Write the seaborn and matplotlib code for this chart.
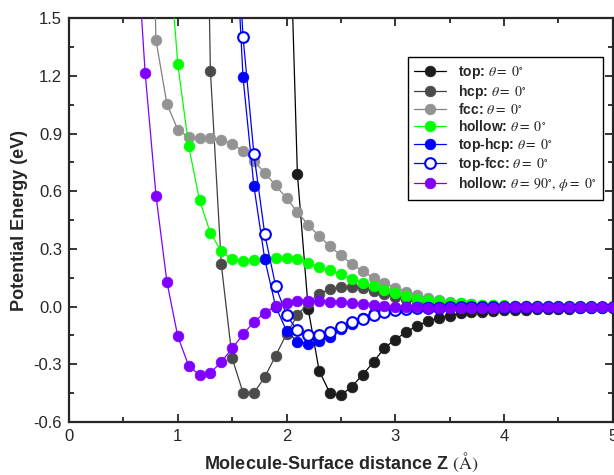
import matplotlib
matplotlib.use('Agg')
import pandas as pd
import matplotlib.pyplot as plt
import seaborn as sns
from matplotlib.ticker import MultipleLocator, FormatStrFormatter

# distance grid (Angstrom), 0.1 steps as in the calculation
z_grid = [0.6, 0.7, 0.8, 0.9, 1.0, 1.1, 1.2, 1.3, 1.4, 1.5, 1.6, 1.7, 1.8, 1.9, 2.0,
          2.1, 2.2, 2.3, 2.4, 2.5, 2.6, 2.7, 2.8, 2.9, 3.0, 3.1, 3.2, 3.3, 3.4, 3.5,
          3.6, 3.7, 3.8, 3.9, 4.0, 4.1, 4.2, 4.3, 4.4, 4.5, 4.6, 4.7, 4.8, 4.9, 5.0]

# potential energies (eV), each series starts at its own z
top_z0 = 2.0
top_e = [2.6, 0.69, -0.015, -0.334, -0.452, -0.462, -0.417, -0.355, -0.289, -0.215,
         -0.172, -0.133, -0.100, -0.077, -0.060, -0.047, -0.035, -0.031, -0.027, -0.023,
         -0.020, -0.018, -0.016, -0.014, -0.013, -0.012, -0.011, -0.010, -0.009, -0.008, -0.008]

hcp_z0 = 1.2
hcp_e = [4.5, 1.228, 0.221, -0.269, -0.448, -0.450, -0.367, -0.256, -0.143, -0.046,
         0.020, 0.067, 0.090, 0.100, 0.102, 0.095, 0.080, 0.063, 0.051, 0.041,
         0.031, 0.024, 0.018, 0.013, 0.009, 0.006, 0.004, 0.003, 0.002, 0.001,
         0.001, 0.001, 0.000, 0.000, 0.000, 0.000, 0.000, 0.000, 0.000]

fcc_z0 = 0.7
fcc_e = [3.5, 1.385, 1.056, 0.920, 0.882, 0.877, 0.876, 0.869, 0.846, 0.809,
         0.756, 0.697, 0.630, 0.564, 0.492, 0.425, 0.367, 0.313, 0.266, 0.222,
         0.183, 0.150, 0.121, 0.099, 0.078, 0.060, 0.044, 0.033, 0.024, 0.016,
         0.012, 0.009, 0.006, 0.004, 0.003, 0.002, 0.002, 0.001, 0.001, 0.001,
         0.000, 0.000, 0.000, 0.000]

hollow_z0 = 0.9
hollow_e = [2.0, 1.262, 0.837, 0.553, 0.383, 0.287, 0.246, 0.238, 0.241, 0.246,
            0.254, 0.250, 0.246, 0.228, 0.206, 0.188, 0.167, 0.145, 0.124, 0.107,
            0.086, 0.069, 0.055, 0.041, 0.034, 0.027, 0.020, 0.016, 0.013, 0.010,
            0.008, 0.006, 0.005, 0.004, 0.003, 0.002, 0.002, 0.001, 0.001, 0.001,
            0.000, 0.000]

tophcp_z0 = 1.5
tophcp_e = [2.3, 1.193, 0.627, 0.246, 0.000, -0.126, -0.184, -0.195, -0.182, -0.157,
            -0.119, -0.091, -0.062, -0.035, -0.018, -0.010, -0.005, -0.003, -0.002, -0.002,
            -0.001, -0.001, -0.001, -0.001, -0.001, 0.000, 0.000, 0.000, 0.000, 0.000,
            0.000, 0.000, 0.000, 0.000, 0.000, 0.000]

topfcc_z0 = 1.5
topfcc_e = [2.4, 1.405, 0.794, 0.377, 0.107, -0.045, -0.124, -0.148, -0.146, -0.130,
            -0.105, -0.081, -0.066, -0.043, -0.029, -0.018, -0.013, -0.010, -0.008, -0.006,
            -0.005, -0.004, -0.003, -0.003, -0.002, -0.002, -0.002, -0.001, -0.001, -0.001,
            -0.001, -0.001, 0.000, 0.000, 0.000, 0.000]

hollow90_z0 = 0.6
hollow90_e = [2.1, 1.217, 0.577, 0.129, -0.155, -0.308, -0.357, -0.345, -0.289, -0.218,
              -0.145, -0.081, -0.032, 0.003, 0.020, 0.030, 0.030, 0.029, 0.025, 0.022,
              0.017, 0.013, 0.008, 0.004, 0.000, -0.003, -0.005, -0.006, -0.007, -0.007,
              -0.007, -0.007, -0.006, -0.006, -0.005, -0.005, -0.004, -0.004, -0.003, -0.003,
              -0.002, -0.002, -0.002, -0.001, -0.001]

th0 = r"$\theta\mathrm{=\ 0}^{\circ}$"
series = [
    # label, z0, energies, line colour, face, edge
    ("top: " + th0, top_z0, top_e, "black", "#1c1c1c", "#1c1c1c"),
    ("hcp: " + th0, hcp_z0, hcp_e, "#404040", "#4a4a4a", "#4a4a4a"),
    ("fcc: " + th0, fcc_z0, fcc_e, "#808080", "#939393", "#939393"),
    ("hollow: " + th0, hollow_z0, hollow_e, "#00ff00", "#00ff00", "#00ff00"),
    ("top-hcp: " + th0, tophcp_z0, tophcp_e, "#0000ff", "#0000ff", "#0000ff"),
    ("top-fcc: " + th0, topfcc_z0, topfcc_e, "#0000ff", "white", "#0000ff"),
    (r"hollow: $\theta\mathrm{=\ 90}^{\circ}\mathrm{,}\ \phi\mathrm{=\ 0}^{\circ}$",
     hollow90_z0, hollow90_e, "#8000ff", "#8000ff", "#8000ff"),
]

sns.set_style("ticks")
plt.rcParams['font.family'] = ['Liberation Sans', 'DejaVu Sans']
plt.rcParams['mathtext.fontset'] = 'stix'
plt.rcParams['axes.unicode_minus'] = False

fig = plt.figure(figsize=(6.14, 4.75), dpi=100)
ax = fig.add_axes([0.1124, 0.112, 0.8856, 0.8494])

for k, (label, z0, energies, lc, fc, ec) in enumerate(series):
    i0 = z_grid.index(z0)
    df = pd.DataFrame({'z': z_grid[i0:i0 + len(energies)], 'E': energies})
    sns.lineplot(data=df, x='z', y='E', ax=ax, sort=False, estimator=None,
                 color=lc, lw=0.9, marker='o', markersize=7.7,
                 markerfacecolor=fc, markeredgecolor=ec,
                 markeredgewidth=1.5 if fc == "white" else 0.5,
                 label=label, zorder=2 + k)

ax.set_xlim(0, 5)
ax.set_ylim(-0.6, 1.5)
ax.xaxis.set_major_locator(MultipleLocator(1))
ax.xaxis.set_minor_locator(MultipleLocator(0.5))
ax.yaxis.set_major_locator(MultipleLocator(0.3))
ax.yaxis.set_minor_locator(MultipleLocator(0.15))
ax.yaxis.set_major_formatter(FormatStrFormatter('%.1f'))
ax.tick_params(which='both', direction='in', top=True, right=True, width=1.3,
               labelsize=12, pad=5)
ax.tick_params(which='major', length=6)
ax.tick_params(which='minor', length=3.5)
for sp in ax.spines.values():
    sp.set_linewidth(1.6)

ax.set_xlabel(r"Molecule-Surface distance Z $\mathsf{(\AA)}$", fontsize=13,
              fontweight='bold', labelpad=5)
ax.set_ylabel("Potential Energy (eV)", fontsize=13, fontweight='bold', labelpad=4)

leg = ax.legend(loc='upper right', bbox_to_anchor=(0.982, 0.904), borderaxespad=0,
                fancybox=False, edgecolor='black', framealpha=1,
                prop={'weight': 'bold', 'size': 10}, handlelength=2.3,
                handletextpad=0.8, labelspacing=0.12, borderpad=0.5)
leg.get_frame().set_linewidth(1.0)

fig.savefig("out.png", dpi=100)
